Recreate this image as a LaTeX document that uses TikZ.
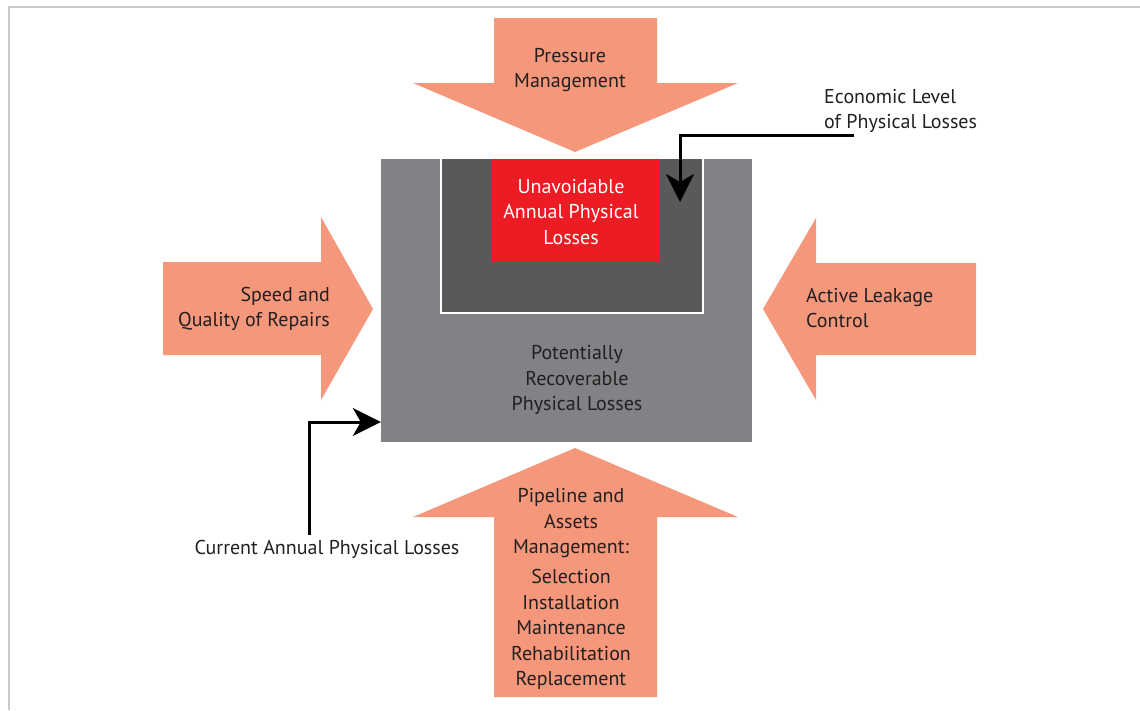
\documentclass[tikz,border=0pt]{standalone}
\usepackage{fontspec}
\setmainfont{PT Sans}
\usetikzlibrary{arrows.meta}
\definecolor{salmon}{HTML}{F5977A}
\definecolor{boxgray}{HTML}{808285}
\definecolor{darkgray}{HTML}{58595B}
\definecolor{lossred}{HTML}{ED1C24}
\definecolor{framegray}{HTML}{C8C9CC}
\definecolor{ink}{HTML}{231F20}
\begin{document}
\begin{tikzpicture}[x=1pt,y=-1pt,
  bigarrow/.style={fill=salmon,draw=none},
  lbl/.style={font=\fontsize{20}{25.5}\selectfont,text=ink,inner sep=0pt},
  pointer/.style={draw=black,line width=3pt,-{Stealth[length=28pt,width=28pt,inset=8pt]}}]
\useasboundingbox (0,0) rectangle (1140,710);
% frame
\draw[framegray,line width=1.6pt] (9,710) -- (9,7) -- (1140,7);
% central boxes
\fill[boxgray] (381,159) rectangle (752,442);
\node[inner sep=0pt,minimum width=371pt,minimum height=283pt] (main) at (566.5,300.5) {};
\fill[darkgray] (441,159) rectangle (703,313);
\draw[white,line width=2pt] (441,159) -- (441,313) -- (703,313) -- (703,159);
\node[inner sep=0pt,minimum width=262pt,minimum height=154pt] (econ) at (572,236) {};
\fill[lossred] (492,159) rectangle (659,262);
% big arrows
\fill[bigarrow] (494,18) -- (657,18) -- (657,83) -- (738,83) -- (575,152) -- (413,83) -- (494,83) -- cycle;
\fill[bigarrow] (163,262) -- (321,262) -- (321,217) -- (373,309) -- (321,400) -- (321,355) -- (163,355) -- cycle;
\fill[bigarrow] (976,263) -- (816,263) -- (816,218) -- (763,309) -- (816,400) -- (816,355) -- (976,355) -- cycle;
\fill[bigarrow] (494,697) -- (657,697) -- (657,517) -- (738,517) -- (575,448) -- (413,517) -- (494,517) -- cycle;
% labels
\node[lbl,align=center] (pm) at (570,70) {Pressure\\Management};
\node[lbl,align=right,anchor=east] (sq) at (330,309) {Speed and\\Quality of Repairs};
\node[lbl,align=left,anchor=west] (alc) at (806,308) {Active Leakage\\Control};
\node[lbl,align=center,text=white] (uapl) at (571,212) {Unavoidable\\Annual Physical\\Losses};
\node[lbl,align=center] (prpl) at (577,380) {Potentially\\Recoverable\\Physical Losses};
\node[lbl,align=center] (pam) at (571,589) {Pipeline and\\Assets\\Management:\\[4.5pt]Selection\\Installation\\Maintenance\\Rehabilitation\\Replacement};
\node[lbl,align=left,anchor=west] (ell) at (824,111) {Economic Level\\of Physical Losses};
\node[lbl] (capl) at (327,549) {Current Annual Physical Losses};
% pointers
\coordinate (ellstart) at (854,135);
\coordinate (elltip) at (680,202);
\draw[pointer] (ellstart) -| (elltip);
\coordinate (caplstart) at (309,535);
\draw[pointer] (caplstart) |- (main.west |- 0,422);
\end{tikzpicture}
\end{document}
